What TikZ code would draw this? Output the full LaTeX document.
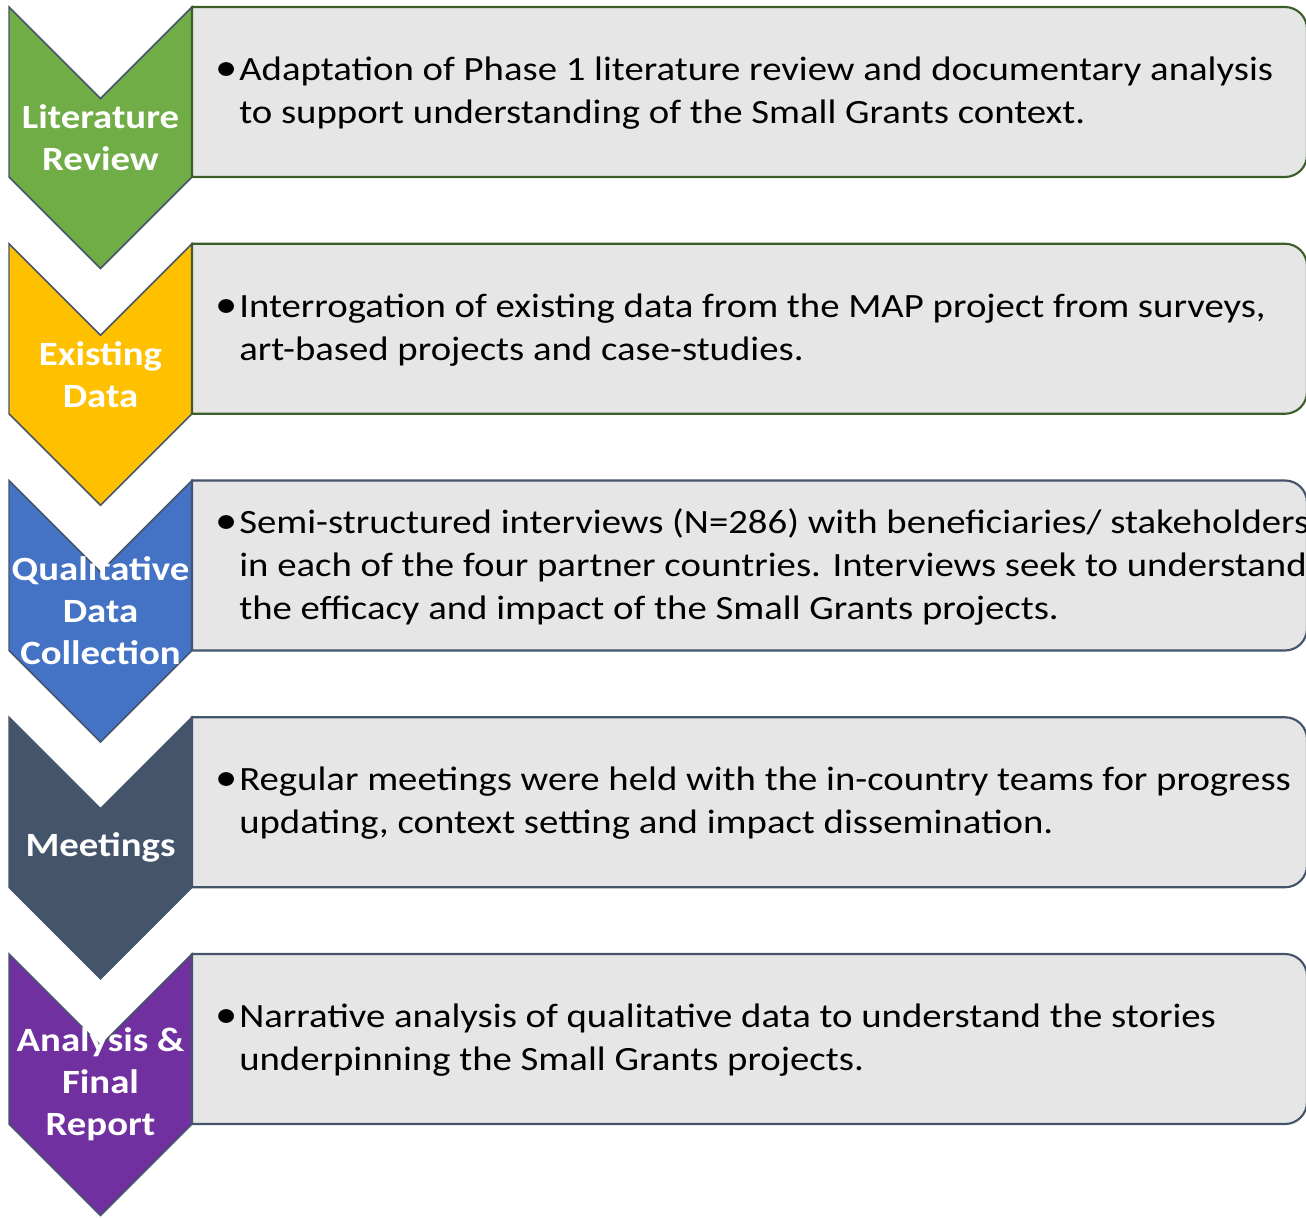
\documentclass[tikz,border=0pt]{standalone}
\usepackage{fontspec}
\setmainfont[FakeStretch=1.14]{Carlito}
\definecolor{cgreen}{HTML}{70AD47}
\definecolor{cyellow}{HTML}{FFC000}
\definecolor{cblue}{HTML}{4472C4}
\definecolor{cslate}{HTML}{44546A}
\definecolor{cpurple}{HTML}{7030A0}
\definecolor{boxfill}{HTML}{E7E6E6}
\definecolor{dgreen}{HTML}{3B5E2B}
\newcommand{\bul}{\makebox[16.5pt][l]{\hspace*{-1.5pt}\scalebox{1.15}{•}}}
\newcommand{\ind}{\hspace*{16.5pt}}
\newcommand{\chevrow}[6]{%
  % #1 top y, #2 fill, #3 box border, #4 name, #5 label, #6 body
  \fill[#2] (9,#1) -- (100.5,#1+91.5) -- (192,#1) -- (192,#1+170) -- (100.5,#1+261.5) -- (9,#1+170) -- cycle;
  \draw[chev] (9,#1) -- (100.5,#1+91.5) -- (192,#1) -- (192,#1+170) -- (100.5,#1+261.5) -- (9,#1+170) -- cycle;
  \draw[boxst, draw=#3] (192,#1) -- (1285,#1) arc[start angle=-90,end angle=0,radius=22] -- (1307,#1+148) arc[start angle=0,end angle=90,radius=22] -- (192,#1+170) -- cycle;
  \node[lab] (#4lab) at (100.5,#1+130.5) {#5};
  \node[body] (#4txt) at (217,#1+86) {#6};
}
\begin{document}
\begin{tikzpicture}[x=0.75pt,y=-0.75pt,
  chev/.style={draw=cslate, line width=1.1pt, line join=miter},
  boxst/.style={fill=boxfill, line width=1.6pt},
  lab/.style={text=white, font=\fontsize{25.5}{31.5}\selectfont\bfseries, align=center, inner sep=0pt},
  body/.style={font=\fontsize{25.5}{32.25}\selectfont, align=left, anchor=west, inner sep=0pt}]
\useasboundingbox (0,0) rectangle (1306,1217);
\clip (0,0) rectangle (1306,1217);
\chevrow{7}{cgreen}{dgreen}{lit}{Literature\\Review}{\bul Adaptation of Phase 1 literature review and documentary analysis\\\ind to support understanding of the Small Grants context.}
\chevrow{243.75}{cyellow}{dgreen}{exist}{Existing\\Data}{\bul Interrogation of existing data from the MAP project from surveys,\\\ind art-based projects and case-studies.}
\chevrow{480.5}{cblue}{cslate}{qual}{Qualitative\\Data\\Collection}{\bul Semi-structured interviews (N=286) with beneficiaries/ stakeholders\\\ind in each of the four partner countries. Interviews seek to understand\\\ind the efficacy and impact of the Small Grants projects.}
\chevrow{717.25}{cslate}{cslate}{meet}{Meetings}{\bul Regular meetings were held with the in-country teams for progress\\\ind updating, context setting and impact dissemination.}
\chevrow{954}{cpurple}{cslate}{anal}{Analysis \&\\Final\\Report}{\bul Narrative analysis of qualitative data to understand the stories\\\ind underpinning the Small Grants projects.}
\end{tikzpicture}
\end{document}
